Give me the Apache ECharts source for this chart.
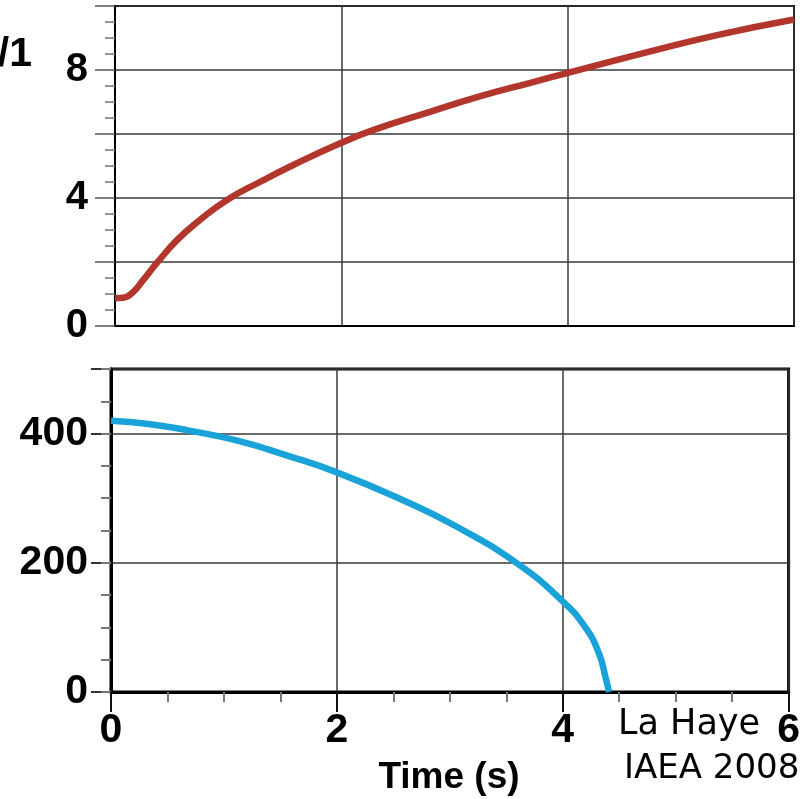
<!DOCTYPE html>
<html>
<head>
<meta charset="utf-8">
<script src="https://cdn.jsdelivr.net/npm/echarts@6/dist/echarts.min.js"></script>
<style>
html,body{margin:0;padding:0;background:#fff;}
#chart{width:803px;height:799px;}
</style>
</head>
<body>
<div id="chart"></div>
<script>
var timeTop = [0, 0.07, 0.16, 0.25, 0.37, 0.55, 0.75, 0.99, 1.28, 1.58, 1.99, 2.28, 2.79, 3.23, 3.67, 4.01, 4.73, 5.33, 6];
var valueTop = [0.87, 0.88, 1.06, 1.44, 1.97, 2.69, 3.31, 3.94, 4.5, 5.04, 5.71, 6.12, 6.7, 7.18, 7.6, 7.92, 8.58, 9.1, 9.58];
var timeBottom = [0, 0.33, 0.68, 1.12, 1.56, 2.0, 2.61, 3.05, 3.58, 3.99, 4.2, 4.32, 4.38, 4.41];
var valueBottom = [420, 415, 405, 389, 366, 340, 295, 257, 201, 142, 100, 60, 22, 0];
var xTickLabels = [0, 2, 4, 6];
var yTopTickLabels = [0, 4, 8];
var yBottomTickLabels = [0, 200, 400];

function pairs(xs, ys){
	var out = [];
	for (var i = 0; i < xs.length; i++) out.push([xs[i], ys[i]]);
	return out;
}
function pick(list){
	return function(v){ return list.indexOf(v) >= 0 ? String(v) : ''; };
}

var chart = echarts.init(document.getElementById('chart'));
var gridLine = { show: true, lineStyle: { color: '#3a3a3a', width: 1.5 } };
var labelFont = { color: '#000', fontWeight: 'bold', fontFamily: '"Liberation Sans", Arial, sans-serif' };

var option = {
	animation: false,
	backgroundColor: '#fff',
	grid: [
		{ left: 115, top: 6, width: 679, height: 320, show: true, borderColor: '#000', borderWidth: 2 },
		{ left: 111, top: 369, width: 680, height: 323, show: true, borderColor: '#000', borderWidth: 3 }
	],
	xAxis: [
		{
			gridIndex: 0, type: 'value', min: 0, max: 6, interval: 2,
			axisLine: { lineStyle: { color: '#000', width: 2 } },
			axisTick: { show: false },
			axisLabel: { show: false },
			splitLine: gridLine
		},
		{
			gridIndex: 1, type: 'value', min: 0, max: 6, interval: 2,
			axisLine: { lineStyle: { color: '#000', width: 3 } },
			axisTick: { length: 20, lineStyle: { color: '#111', width: 2 } },
			minorTick: { show: true, splitNumber: 4, length: 10, lineStyle: { color: '#777', width: 2 } },
			axisLabel: echarts.util.extend({ fontSize: 41, margin: 18, showMinLabel: true, showMaxLabel: true, formatter: pick(xTickLabels) }, labelFont),
			splitLine: gridLine
		}
	],
	yAxis: [
		{
			gridIndex: 0, type: 'value', min: 0, max: 10, interval: 2,
			axisLine: { lineStyle: { color: '#000', width: 2 } },
			axisTick: { length: 20, lineStyle: { color: '#555', width: 1.5 } },
			minorTick: { show: true, splitNumber: 4, length: 10, lineStyle: { color: '#777', width: 1.5 } },
			axisLabel: echarts.util.extend({ fontSize: 40, margin: 27, showMinLabel: true, showMaxLabel: true, formatter: pick(yTopTickLabels) }, labelFont),
			splitLine: gridLine
		},
		{
			gridIndex: 1, type: 'value', min: 0, max: 500, interval: 200,
			axisLine: { lineStyle: { color: '#000', width: 3 } },
			axisTick: { length: 20, lineStyle: { color: '#333', width: 2 } },
			axisLabel: echarts.util.extend({ fontSize: 41, margin: 23, showMinLabel: true, showMaxLabel: true, formatter: pick(yBottomTickLabels) }, labelFont),
			splitLine: gridLine
		},
		{
			/*** short ticks every 50 ***/
			gridIndex: 1, type: 'value', min: 0, max: 500, interval: 50, position: 'left',
			axisLine: { show: false },
			axisTick: { length: 10, lineStyle: { color: '#777', width: 2 } },
			axisLabel: { show: false },
			splitLine: { show: false }
		}
	],
	series: [
		{
			type: 'line', xAxisIndex: 0, yAxisIndex: 0,
			data: pairs(timeTop, valueTop),
			smooth: true, showSymbol: false,
			lineStyle: { color: '#b2362b', width: 6.5 }
		},
		{
			type: 'line', xAxisIndex: 1, yAxisIndex: 1,
			data: pairs(timeBottom, valueBottom),
			smooth: true, showSymbol: false,
			lineStyle: { color: '#1aa3d8', width: 6.5 }
		}
	],
	graphic: [
		{ type: 'text', x: 32, y: 55, style: { text: '/1', align: 'right', verticalAlign: 'middle', fill: '#000', font: 'bold 41px "Liberation Sans", Arial, sans-serif' } },
		{ type: 'text', x: 449, y: 778, style: { text: 'Time (s)', align: 'center', verticalAlign: 'middle', fill: '#000', font: 'bold 37px "Liberation Sans", Arial, sans-serif' } },
		{ type: 'text', x: 618, y: 725, style: { text: 'La Haye', align: 'left', verticalAlign: 'middle', fill: '#000', font: '35px "DejaVu Sans", sans-serif' } },
		{ type: 'text', x: 624, y: 769, style: { text: 'IAEA 2008', align: 'left', verticalAlign: 'middle', fill: '#000', font: '34px "DejaVu Sans", sans-serif' } }
	]
};
chart.setOption(option);
</script>
</body>
</html>
